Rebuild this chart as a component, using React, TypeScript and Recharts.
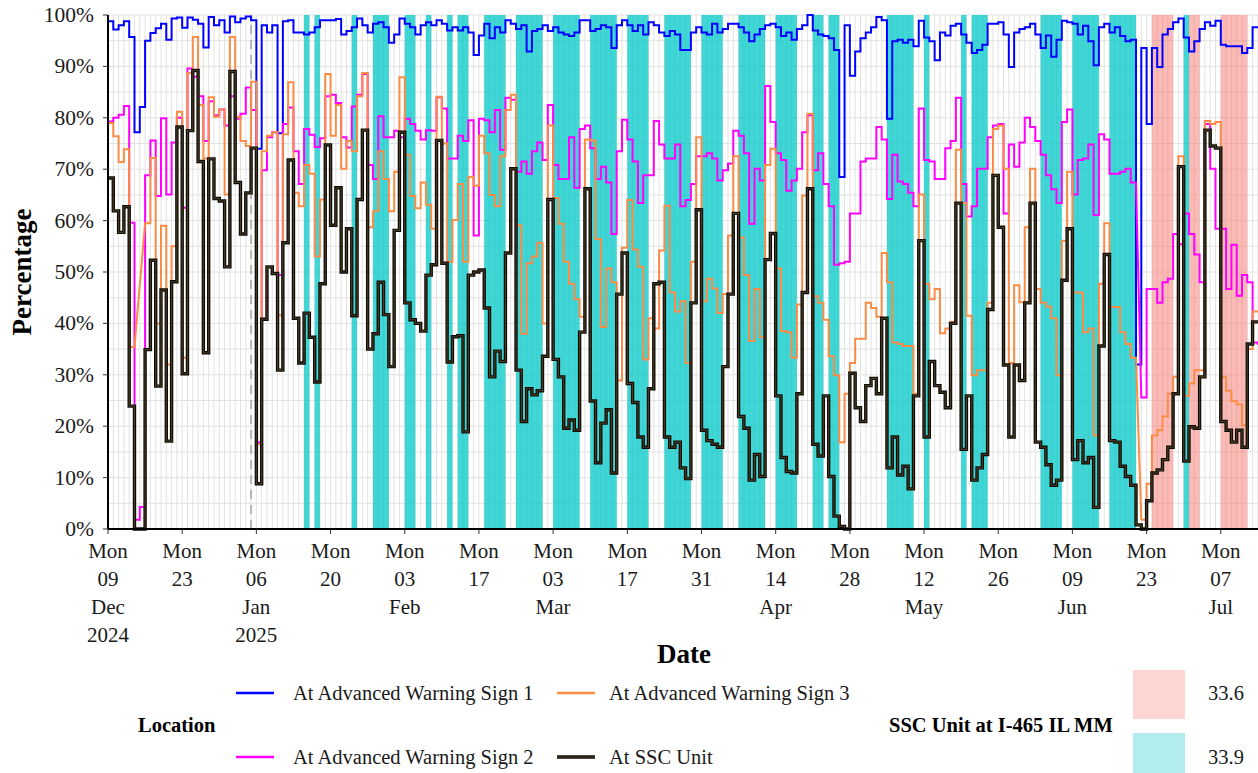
import React from 'react';
import {
  LineChart,
  Line,
  XAxis,
  YAxis,
  CartesianGrid,
  ReferenceArea,
  ReferenceLine,
} from 'recharts';

// Daily share (%) per location, day 0 = Mon 09 Dec 2024
const sign1 = [
  98.8, 97.2, 98, 98.8, 95.7, 77.2, 82.1, 95, 96.5, 97.4,
  98.3, 95.2, 99.3, 99.5, 97.5, 99.5, 99.1, 98.3, 93.7, 99.6,
  98, 99, 96.6, 99.7, 98.6, 99.3, 99.7, 99, 74, 98,
  96.6, 98, 77, 98.8, 99, 96.6, 96.6, 96.2, 96.6, 97.6,
  99, 99, 99, 99.2, 96.2, 96.9, 97.6, 99.3, 98, 96.6,
  98.3, 98.6, 97.6, 94.6, 96.2, 99.3, 98.3, 97.6, 96.2, 98,
  98.6, 98, 99, 98.3, 97, 97.6, 97, 97.6, 96.6, 92.2,
  96, 98.3, 95.5, 97.6, 96.6, 99, 98.3, 97.3, 98, 92.9,
  96.9, 97.3, 98, 96.9, 97.6, 96.6, 96.2, 95.9, 96.6, 99,
  99, 96.9, 97.3, 98, 97.6, 93.6, 98, 99, 98, 96.9,
  98, 96.2, 98.6, 98, 96.6, 95.9, 96.9, 96.2, 93.2, 93.2,
  96.6, 97.6, 96.6, 96.2, 98.3, 96.6, 97.3, 98.3, 98.3, 97.6,
  96.6, 94.9, 96.2, 97.3, 98, 98.3, 97.6, 95.9, 96.6, 95.2,
  97.3, 98, 100, 97, 96.2, 95.9, 95.5, 93.2, 68.5, 98,
  88.2, 92.9, 95.5, 96.6, 97.6, 99.6, 99, 79.8, 94.9, 95.2,
  94.6, 95.2, 93.9, 98.9, 95.6, 94.9, 91.2, 96.6, 96, 97.9,
  98.3, 96.2, 94.6, 92.6, 93.2, 94.2, 98.3, 98.3, 98.6, 96.2,
  89.9, 96.6, 97.3, 97.6, 98.3, 96.2, 93.6, 96, 91.9, 95.2,
  98.9, 98.6, 98.3, 96.2, 97.9, 94.9, 90.2, 97.6, 98.3, 96.6,
  97.6, 95.9, 94.9, 95.2, 32, 93.6, 78.8, 93.6, 89.9, 96.2,
  97.3, 98.6, 99.3, 95.6, 92.9, 94.9, 97.3, 98.6, 97.9, 98.9,
  94.2, 93.9, 93.9, 93.9, 92.6, 93.6, 97.6, 97.6,
];

const sign2 = [
  79.3, 80, 80.6, 82.3, 59.6, 1.8, 4.3, 68.8, 75.6, 64.8,
  79.9, 65.1, 75.2, 80, 62.5, 89.6, 88, 84.2, 75.5, 83.2,
  80.5, 81.6, 78.5, 84.2, 79.8, 80.8, 85.9, 81.5, 16.9, 69.8,
  76.2, 77.2, 49.4, 78.8, 82, 73.5, 67.1, 77.8, 76.7, 74.3,
  76, 84.2, 84.5, 82.9, 76.2, 74.2, 82.2, 84.5, 88.5, 70.8,
  68.1, 80.3, 76.2, 76.2, 77.5, 76.2, 79.8, 78.8, 77.5, 75.8,
  77.6, 77.5, 84, 81.8, 72.1, 72.1, 76.5, 75.5, 79.5, 57.1,
  79.8, 79.5, 77.2, 81.5, 73.8, 83.9, 83.5, 69.5, 71.5, 69.1,
  73.5, 75.2, 71.8, 82.5, 70.8, 68.1, 68.1, 76.2, 66.4, 77.8,
  78.5, 74.1, 68.1, 70.5, 67.4, 57.4, 73.5, 79.6, 75.8, 71.5,
  63.4, 68.8, 68.8, 79.4, 74.8, 72.1, 72.1, 74.8, 62.8, 64,
  67.1, 72.5, 72.5, 73.1, 72.1, 67.8, 69.8, 71.1, 77.5, 76.5,
  73.1, 59.4, 70.1, 67.8, 86.2, 79.2, 73.1, 71.8, 65.8, 67.8,
  70.1, 77.2, 80.5, 69.8, 73.1, 67.1, 62.8, 51.4, 51.7, 52,
  61.4, 61.4, 71.5, 72.1, 72.1, 78.2, 75.8, 64.2, 72.8, 67.6,
  67.1, 65.4, 62.8, 81.8, 71.8, 71.5, 68.1, 68.1, 74.1, 75.5,
  83.9, 67.1, 60.8, 62.8, 70.1, 70.1, 76.2, 78.5, 78.8, 61.4,
  74.8, 70.5, 75.2, 80, 78.2, 75.5, 72.8, 68.8, 66.1, 63.4,
  79.2, 81.6, 65.1, 71.8, 72.1, 74.8, 61.1, 76.8, 75.8, 69.1,
  69.1, 69.5, 70.1, 67.4, null, 25.6, 46.7, 46.7, 44, 48,
  48.7, 57.4, 55.4, 61.4, 57.4, 53.4, 48, 78.8, 70.1, 58.4,
  58.4, 46.7, 55.3, 45.4, 49.4, 48, 36.3, 36,
];

const sign3 = [
  79, 76.4, 71.4, 73.9, 35.4, null, null, 59.5, 72.2, 40,
  59, 32, 55, 81.2, 33.3, 88.7, 95.7, 82.5, 72.1, 84,
  80.2, 81.6, 65.1, 95.7, 80.2, 75.5, 74.5, 87, 16.5, 73.5,
  76.5, 77.2, 41.6, 76.8, 86.9, 65.4, 62.8, 70.8, 69.1, 53,
  64.1, 88.5, 76.5, 82.5, 70.1, 75.5, 73.5, 84.2, 88.7, 58.7,
  61.8, 73.5, 68.1, 61.8, 69.5, 87.9, 72.8, 64.8, 62.4, 67.4,
  63.1, 58.4, 84.1, 75, 52, 60.1, 67.1, 52, 68.5, 66.8,
  76.5, 73.1, 65, 62.8, 72.5, 81.5, 84.5, 59.1, 38, 51.7,
  53, 55.7, 40, 78.5, 64.4, 59.4, 52, 47.7, 44.7, 41.3,
  75.8, 75.6, 56.4, 39.3, 50.7, 48, 28.9, 54.7, 64, 54.4,
  51, 33, 41, 39, 54.2, 62.9, 46, 42.3, 44.3, 32.3,
  52, 76.2, 44.3, 48.7, 46.8, 42, 45.7, 57.1, 72.5, 56.7,
  49.4, 36.6, 46.7, 37.3, 70.8, 74, 50.7, 38.5, 38.3, 33.3,
  43.7, 64.9, 80.8, 45.3, 44, 40.7, 33.6, 29.9, 16.9, 26.3,
  32.3, 37, 37, 44, 43, 41.3, 53.7, 48, 36.3, 36,
  35.6, 35.6, 26.3, 65.1, 47.7, 44.7, 46.7, 38.1, 39, 40.3,
  73.8, 63.4, 41.5, 29.9, 30.9, 30.9, 44, 77.8, 78.5, 70.1,
  32.3, 47.4, 44.1, 58.7, 70.1, 46.7, 44, 43.3, 41, 29.9,
  56.1, 69.5, 46, 46, 38.3, 39, 18.2, 47.7, 59.5, 43.2,
  43.2, 38.3, 36, 33.3, null, 1.8, 8.8, 18.2, 19.2, 21.9,
  26.3, 29.6, 72.5, 25.9, 28.3, 30.9, 30.9, 79.4, 78.8, 79.2,
  29.6, 26.9, 24.9, 24.2, 20.2, 35, 42.3, 42.3,
];

const sscUnit = [
  68.3, 61.9, 57.7, 62.7, 23.9, 0, 0, 34.9, 52.3, 27.8,
  46.5, 17.1, 48.1, 78.2, 30.2, 77.5, 89.2, 71.5, 34.3, 72,
  64.3, 63.8, 51, 89, 67.4, 57.4, 65.4, 74.1, 8.8, 40.8,
  51, 49.7, 30.9, 55.7, 71.8, 41, 32.3, 42, 37.3, 28.6,
  47.7, 74.7, 59.1, 66.4, 50, 58.4, 41.5, 64.1, 77.6, 35,
  38, 48, 41.7, 31.6, 58.1, 77.2, 44, 40.7, 40, 38.5,
  49.4, 51.4, 75.6, 51.7, 32.5, 37.4, 37.6, 18.9, 49.4, 50,
  50.4, 43, 29.6, 34.6, 32.6, 53.7, 70.1, 30.9, 20.9, 27.3,
  26.1, 26.9, 33.6, 64.1, 33, 29.6, 19.6, 21.2, 19.2, 38.3,
  66.2, 24.9, 12.9, 20.6, 23.2, 10.9, 45.7, 53.7, 28.3, 24.6,
  17.9, 15.9, 27.3, 47.7, 48, 17.9, 15.9, 16.9, 11.9, 9.8,
  44, 62.1, 19.2, 17.2, 16.5, 15.9, 31.6, 45.7, 61.4, 21.9,
  19.6, 9.5, 14.5, 10.2, 52.4, 57.5, 25.9, 13.9, 11.2, 10.9,
  26.3, 46, 66.2, 16.5, 14.2, 25.9, 10.2, 2.5, 0.5, 0,
  30.3, 23.6, 20.9, 27.9, 29.3, 26.3, 41, 11.9, 17.9, 10.5,
  12.2, 7.8, 25.9, 56.1, 17.9, 32.6, 27.9, 26.6, 23.6, 40,
  63.4, 15.5, 25.9, 9.5, 11.9, 14.5, 42.7, 68.8, 58.7, 31.9,
  17.9, 31.9, 28.9, 44, 63.4, 16.9, 15.9, 12.5, 8.5, 9.5,
  48.4, 58.4, 13.5, 17.2, 12.9, 13.9, 4.2, 35.6, 53.4, 17.2,
  16.9, 12.2, 10.2, 8.5, 0.8, 0, 5.5, 10.9, 11.5, 13.5,
  15.9, 26.3, 70.5, 13.2, 19.9, 19.6, 29.6, 77.6, 74.5, 74.1,
  20.9, 19.2, 16.9, 19.2, 15.9, 36, 40.3, 40.3,
];

// Days on which the SSC unit ran at each setting
const setting339Days = [
  37, 39, 46, 50, 51, 52, 56, 57, 60, 64, 66, 67,
  71, 72, 73, 74, 77, 78, 79, 80, 81, 84, 85, 86, 87, 88,
  91, 92, 93, 94, 95, 98, 99, 100, 101, 105, 106, 107, 108, 109,
  112, 113, 114, 115, 119, 120, 121, 122, 123, 126, 127, 128, 129,
  133, 134, 136, 137, 147, 148, 149, 150, 151, 154, 161, 163, 164, 165,
  176, 177, 178, 179, 182, 183, 184, 185, 186, 189, 190, 191, 192, 193, 203,
];
const setting336Days = [197, 198, 199, 200, 204, 205, 210, 211, 212, 213, 214];

// Axis ticks (every second Monday)
const tickDays = [0, 14, 28, 42, 56, 70, 84, 98, 112, 126, 140, 154, 168, 182, 196, 210];
const tickWeekdays = tickDays.map(() => 'Mon');
const tickDates = ['09', '23', '06', '20', '03', '17', '03', '17', '31', '14', '28', '12', '26', '09', '23', '07'];
const tickMonths = ['Dec', '', 'Jan', '', 'Feb', '', 'Mar', '', '', 'Apr', '', 'May', '', 'Jun', '', 'Jul'];
const tickYears = ['2024', '', '2025', '', '', '', '', '', '', '', '', '', '', '', '', ''];
const percentTicks = [0, 10, 20, 30, 40, 50, 60, 70, 80, 90, 100];

const markerDay = 27;
const dayCount = sign1.length;
const domainEnd = 217.4;

const FONT = "'Liberation Serif', 'Times New Roman', serif";
const COLORS = {
  s1: '#0000FF',
  s2: '#FF00FF',
  s3: '#FA8C45',
  ssc: '#0d0b05',
  sscInner: '#4a3c24',
  c339: '#00C8C8',
  c336: '#F8766D',
};

// Each day becomes a flat segment from d to d+1
const rows: any[] = [];
for (let d = 0; d < dayCount; d++) {
  const v = { s1: sign1[d], s2: sign2[d], s3: sign3[d], ssc: sscUnit[d] };
  rows.push({ x: d, ...v });
  rows.push({ x: d + 1, ...v });
}

function toRuns(days: number[]): [number, number][] {
  const sorted = [...days].sort((a, b) => a - b);
  const runs: [number, number][] = [];
  for (const d of sorted) {
    const last = runs[runs.length - 1];
    if (last && last[1] === d) last[1] = d + 1;
    else runs.push([d, d + 1]);
  }
  return runs;
}
const runs339 = toRuns(setting339Days);
const runs336 = toRuns(setting336Days);

const dailyLines = Array.from({ length: 218 }, (_, i) => i);
const fivePct = Array.from({ length: 21 }, (_, i) => i * 5);

const textStyle = { fontFamily: FONT };

const DateTick = (props: any) => {
  const { x, y, payload } = props;
  const i = tickDays.indexOf(payload.value);
  if (i < 0) return null;
  const lines = [tickWeekdays[i], tickDates[i], tickMonths[i], tickYears[i]].filter((s) => s);
  return (
    <text x={x} y={y} textAnchor="middle" style={textStyle} fontSize={21} fill="#1a1a1a">
      {lines.map((l, k) => (
        <tspan key={k} x={x} y={y + 22 + k * 28}>
          {l}
        </tspan>
      ))}
    </text>
  );
};

const PercentTick = (props: any) => {
  const { x, y, payload } = props;
  return (
    <text x={x} y={y + 7} textAnchor="end" style={textStyle} fontSize={21.5} fill="#1a1a1a">
      {`${payload.value}%`}
    </text>
  );
};

export default function App() {
  return (
    <div
      style={{
        position: 'fixed',
        left: 0,
        top: 0,
        width: 1258,
        height: 773,
        overflow: 'hidden',
        background: '#ffffff',
        fontFamily: FONT,
      }}
    >
      <LineChart
        width={1260}
        height={773}
        data={rows}
        margin={{ top: 15, right: 0, left: 0, bottom: 0 }}
        style={{ fontFamily: FONT }}
      >
        <CartesianGrid
          stroke="#E2E2E2"
          strokeWidth={1}
          verticalValues={dailyLines}
          horizontalValues={fivePct}
        />
        {runs339.map(([a, b]) => (
          <ReferenceArea
            key={`c${a}`}
            x1={a}
            x2={b}
            y1={0}
            y2={100}
            fill={COLORS.c339}
            fillOpacity={0.75}
            stroke="none"
            ifOverflow="hidden"
          />
        ))}
        {runs336.map(([a, b]) => (
          <ReferenceArea
            key={`p${a}`}
            x1={a}
            x2={b}
            y1={0}
            y2={100}
            fill={COLORS.c336}
            fillOpacity={0.5}
            stroke="none"
            ifOverflow="hidden"
          />
        ))}
        <ReferenceLine x={markerDay} stroke="#B5B5B5" strokeWidth={2} strokeDasharray="9 6" />
        <XAxis
          dataKey="x"
          type="number"
          domain={[0, domainEnd]}
          allowDataOverflow
          ticks={tickDays}
          interval={0}
          tick={<DateTick />}
          tickSize={5}
          tickMargin={2}
          height={244}
          axisLine={{ stroke: '#000', strokeWidth: 2 }}
          tickLine={{ stroke: '#333' }}
        />
        <XAxis
          xAxisId="top"
          orientation="top"
          dataKey="x"
          type="number"
          domain={[0, domainEnd]}
          allowDataOverflow
          tick={false}
          tickLine={false}
          height={0}
          axisLine={{ stroke: '#333', strokeWidth: 1.5 }}
        />
        <YAxis
          type="number"
          domain={[0, 100]}
          ticks={percentTicks}
          interval={0}
          width={108}
          tick={<PercentTick />}
          tickSize={5}
          tickMargin={9}
          axisLine={{ stroke: '#000', strokeWidth: 2 }}
          tickLine={{ stroke: '#333' }}
        />
        <Line
          dataKey="s1"
          type="linear"
          stroke={COLORS.s1}
          strokeWidth={2}
          dot={false}
          activeDot={false}
          connectNulls
          isAnimationActive={false}
        />
        <Line
          dataKey="s2"
          type="linear"
          stroke={COLORS.s2}
          strokeWidth={2}
          dot={false}
          activeDot={false}
          connectNulls
          isAnimationActive={false}
        />
        <Line
          dataKey="s3"
          type="linear"
          stroke={COLORS.s3}
          strokeWidth={2}
          dot={false}
          activeDot={false}
          connectNulls
          isAnimationActive={false}
        />
        <Line
          dataKey="ssc"
          type="linear"
          stroke={COLORS.ssc}
          strokeWidth={3.4}
          strokeLinejoin="miter"
          dot={false}
          activeDot={false}
          connectNulls
          isAnimationActive={false}
        />
        <Line
          dataKey="ssc"
          type="linear"
          stroke={COLORS.sscInner}
          strokeWidth={1.1}
          strokeLinejoin="miter"
          dot={false}
          activeDot={false}
          connectNulls
          isAnimationActive={false}
        />
      </LineChart>

      <svg
        width={1258}
        height={773}
        style={{ position: 'absolute', left: 0, top: 0, pointerEvents: 'none', fontFamily: FONT }}
      >
        <text
          transform="translate(31,272) rotate(-90)"
          textAnchor="middle"
          fontSize={27}
          fontWeight="bold"
          fill="#000"
        >
          Percentage
        </text>
        <text x={684} y={663} textAnchor="middle" fontSize={27} fontWeight="bold" fill="#000">
          Date
        </text>

        <text x={138} y={732} fontSize={20.5} fontWeight="bold" fill="#000">
          Location
        </text>
        <line x1={236} x2={274} y1={693} y2={693} stroke={COLORS.s1} strokeWidth={2.5} />
        <text x={293} y={700} fontSize={20.5} fill="#1a1a1a">
          At Advanced Warning Sign 1
        </text>
        <line x1={236} x2={274} y1={757} y2={757} stroke={COLORS.s2} strokeWidth={2.5} />
        <text x={293} y={764} fontSize={20.5} fill="#1a1a1a">
          At Advanced Warning Sign 2
        </text>
        <line x1={557} x2={595} y1={693} y2={693} stroke={COLORS.s3} strokeWidth={2.5} />
        <text x={609} y={700} fontSize={20.5} fill="#1a1a1a">
          At Advanced Warning Sign 3
        </text>
        <line x1={557} x2={595} y1={757} y2={757} stroke={COLORS.ssc} strokeWidth={3.4} />
        <line x1={557} x2={595} y1={757} y2={757} stroke={COLORS.sscInner} strokeWidth={1.1} />
        <text x={609} y={764} fontSize={20.5} fill="#1a1a1a">
          At SSC Unit
        </text>

        <text x={889} y={732} fontSize={20.5} fontWeight="bold" fill="#000">
          SSC Unit at I-465 IL MM
        </text>
        <rect x={1133} y={670} width={52} height={49} fill="#FDD6D3" />
        <text x={1208} y={700} fontSize={20.5} fill="#1a1a1a">
          33.6
        </text>
        <rect x={1133} y={733} width={52} height={49} fill="#B2ECED" />
        <text x={1208} y={764} fontSize={20.5} fill="#1a1a1a">
          33.9
        </text>
      </svg>
    </div>
  );
}
